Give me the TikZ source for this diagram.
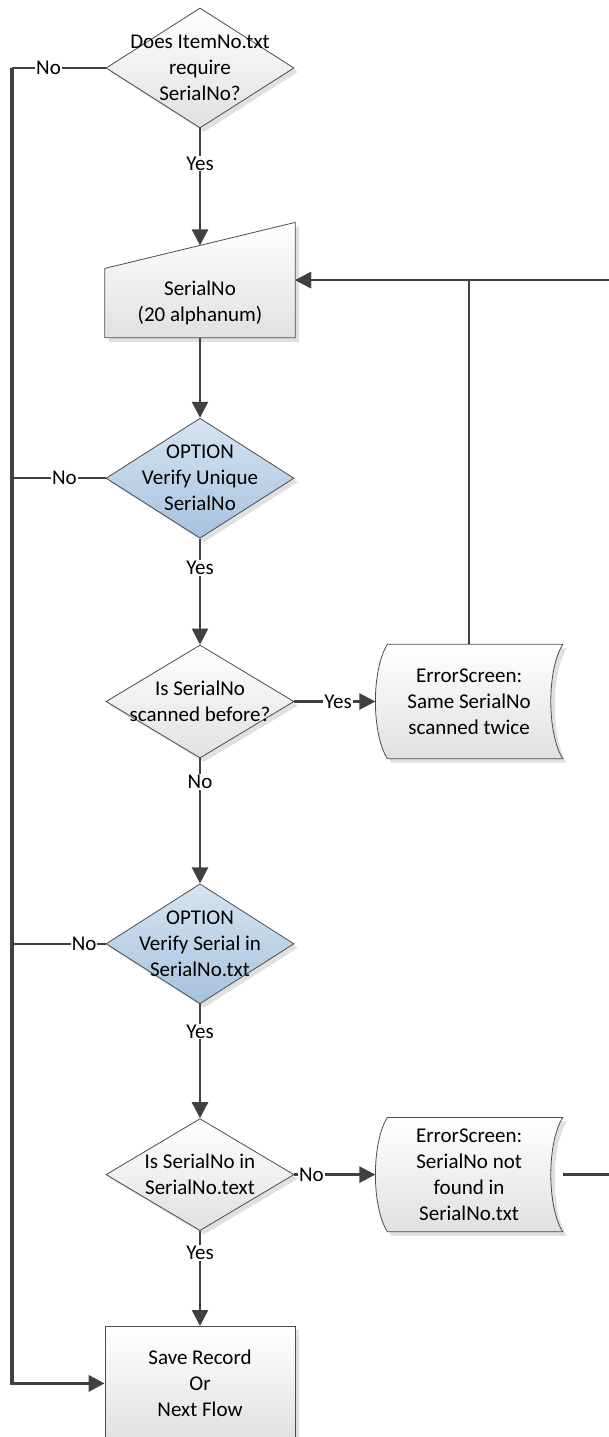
\documentclass[tikz,border=0pt]{standalone}
\usepackage{fontspec}
\setmainfont{Carlito}
\usetikzlibrary{positioning,shapes.geometric,shadows,arrows.meta,backgrounds}

\definecolor{optTop}{RGB}{214,228,242}
\definecolor{optBot}{RGB}{166,194,222}
\definecolor{wire}{RGB}{64,64,64}

\tikzset{
  shade/.style={top color=white, bottom color=black!12,
    drop shadow={shadow xshift=4pt, shadow yshift=-4pt, fill=black!12, opacity=1}},
  decision/.style={diamond, draw=black!70, line width=0.8pt, shade,
    minimum width=188pt, minimum height=120pt, inner sep=0pt},
  option/.style={decision, top color=optTop, bottom color=optBot},
  process/.style={rectangle, draw=black!70, line width=0.8pt, shade,
    minimum width=190pt, minimum height=114pt, align=center},
  inbox/.style={rectangle, minimum width=190pt, minimum height=115pt, inner sep=0pt},
  errbox/.style={rectangle, minimum width=187pt, minimum height=114pt, align=center},
  outline/.style={draw=black!70, line width=0.8pt, shade},
  line/.style={draw=wire, line width=2.5pt, -{Triangle[length=16pt,width=16pt]}},
  nolead/.style={draw=wire, line width=2pt},
  bus/.style={draw=wire, line width=3.5pt},
  lbl/.style={fill=white, inner sep=1pt}
}

\begin{document}
\begin{tikzpicture}[x=1pt, y=-1pt, font=\fontsize{21}{26}\selectfont]

  \useasboundingbox (0,0) rectangle (608,1437);

  \node[decision, label={[name=node1-text, align=center]center:{Does ItemNo.txt\\require\\SerialNo?}}] (node1) at (200,68) {};

  \node[inbox, label={[name=node2-text, align=center, yshift=-23pt]center:{SerialNo\\(20 alphanum)}}] (node2) [below = 94pt of node1] {};
  \node[option, label={[name=node3-text, align=center]center:{OPTION\\Verify Unique\\SerialNo}}] (node3) [below = 80pt of node2] {};
  \node[decision, minimum height=113pt, label={[name=node4-text, align=center]center:{Is SerialNo\\scanned before?}}] (node4) [below = 106pt of node3] {};
  \node[errbox] (node5) [right = 81pt of node4] {ErrorScreen:\\Same SerialNo\\scanned twice};
  \node[option, label={[name=node6-text, align=center]center:{OPTION\\Verify Serial in\\SerialNo.txt}}] (node6) [below = 125pt of node4] {};
  \node[decision, minimum height=112pt, label={[name=node7-text, align=center]center:{Is SerialNo in\\SerialNo.text}}] (node7) [below = 114pt of node6] {};
  \node[errbox] (node8) [right = 81pt of node7] {ErrorScreen:\\SerialNo not\\found in\\SerialNo.txt};
  \node[process] (node9) [below = 95pt of node7] {Save Record\\Or\\Next Flow};

  \coordinate (left) at (12,0);
  \coordinate (edge) at (630,0);

  % outlines of the input and the error screens
  \begin{scope}[on background layer]
    \path[outline] (node2.south west) -- ([yshift=-46pt]node2.north west)
      -- (node2.north east) -- (node2.south east) -- cycle;
    \path[outline] ([xshift=12pt]node5.north west) -- (node5.north east)
      .. controls +(-16pt,-25pt) and +(-16pt,25pt) .. (node5.south east)
      -- ([xshift=12pt]node5.south west)
      .. controls +(-16pt,25pt) and +(-16pt,-25pt) .. ([xshift=12pt]node5.north west) -- cycle;
    \path[outline] ([xshift=12pt]node8.north west) -- (node8.north east)
      .. controls +(-16pt,-25pt) and +(-16pt,25pt) .. (node8.south east)
      -- ([xshift=12pt]node8.south west)
      .. controls +(-16pt,25pt) and +(-16pt,-25pt) .. ([xshift=12pt]node8.north west) -- cycle;
  \end{scope}

  \path[line] (node1.south) -- node[lbl, pos=0.3] {Yes} ([yshift=-23pt]node2.north);
  \path[line] (node2.south) -- (node3.north);
  \path[line] (node3.south) -- node[lbl, pos=0.28] {Yes} (node4.north);
  \path[line] (node4.east) -- node[lbl, pos=0.54] {Yes} (node5.west);
  \path[line] (node4.south) -- node[lbl, pos=0.19] {No} (node6.north);
  \path[line] (node6.south) -- node[lbl, pos=0.24] {Yes} (node7.north);
  \path[line] (node7.east) -- node[lbl, pos=0.21] {No} (node8.west);
  \path[line] (node7.south) -- node[lbl, pos=0.23] {Yes} (node9.north);

  % back to the serial input
  \path[line] (node5.north) |- (node2.east);
  \path[line] (node8.east) -- (node8.east -| edge) |- (node2.east);

  % skip lines on the left
  \path[bus, -{Triangle[length=16pt,width=16pt]}] (node1.west -| left) |- (node9.west);
  \path[nolead] (node1.west) -- node[lbl, pos=0.61] {No} (node1.west -| left);
  \path[nolead] (node3.west) -- node[lbl, pos=0.44] {No} (node3.west -| left);
  \path[nolead] (node6.west) -- node[lbl, pos=0.23] {No} (node6.west -| left);

\end{tikzpicture}
\end{document}
